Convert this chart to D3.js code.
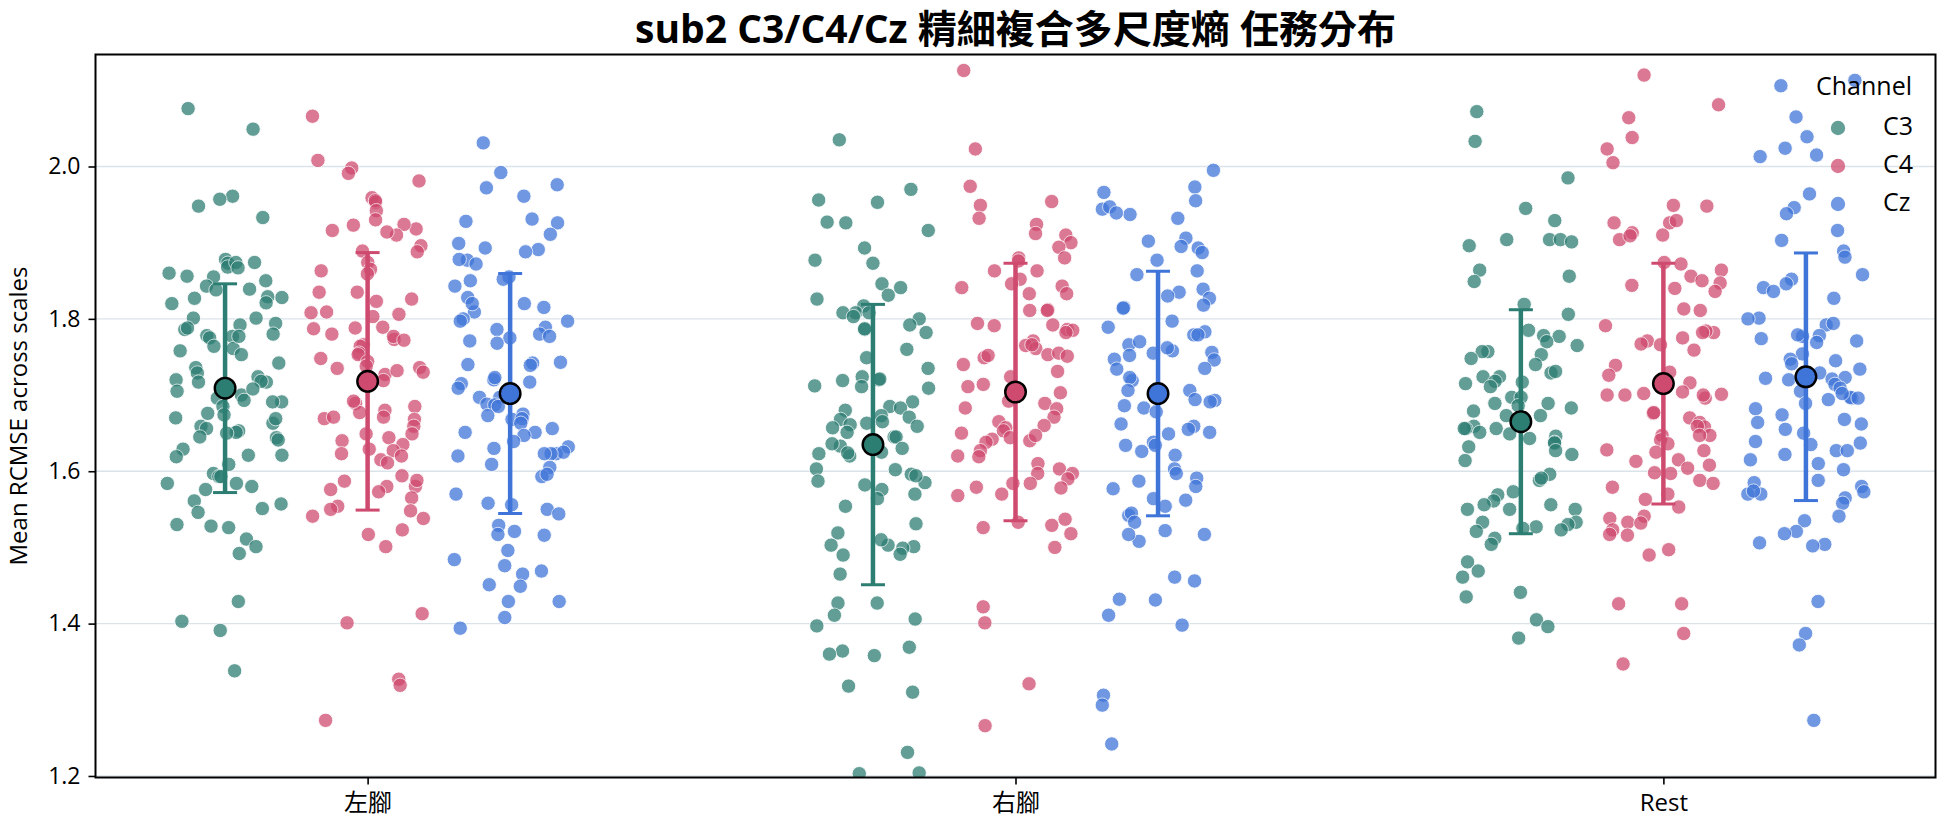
<!DOCTYPE html>
<html><head><meta charset="utf-8">
<script src="https://cdn.jsdelivr.net/npm/d3@7"></script>
<style>
html,body{margin:0;padding:0;background:#fff;}
svg{display:block;}
text{font-family:"Open Sans","Noto Sans CJK TC",sans-serif;fill:#000;}
</style></head>
<body><svg id="chart" width="1944" height="827"></svg>
<script>
const titleText = "sub2 C3/C4/Cz 精細複合多尺度熵 任務分布";
const yLabel = "Mean RCMSE across scales";
const categories = ["左腳", "右腳", "Rest"];
const channels = ["C3", "C4", "Cz"];
const colors = ["#2c7d72", "#cf4a6f", "#3f74d8"];
const yTicks = [1.2, 1.4, 1.6, 1.8, 2.0];

// means and SD (error bars) per channel, per category
const meanC3 = [1.709, 1.635, 1.665];
const meanC4 = [1.718, 1.704, 1.715];
const meanCz = [1.702, 1.702, 1.724];
const sdC3 = [0.137, 0.184, 0.147];
const sdC4 = [0.169, 0.169, 0.158];
const sdCz = [0.1575, 0.1605, 0.1625];

// individual points
const c3Left = [2.076,2.049,1.961,1.957,1.948,1.933,1.874,1.878,1.873,1.868,1.860,1.874,1.867,1.855,1.850,1.843,1.838,1.827,1.828,1.839,1.829,1.821,1.820,1.792,1.794,1.801,1.801,1.786,1.780,1.788,1.778,1.777,1.775,1.764,1.761,1.758,1.753,1.742,1.736,1.729,1.724,1.717,1.700,1.720,1.711,1.718,1.708,1.705,1.696,1.691,1.691,1.685,1.676,1.674,1.670,1.663,1.659,1.656,1.653,1.651,1.650,1.645,1.644,1.641,1.629,1.621,1.619,1.621,1.609,1.597,1.584,1.593,1.593,1.584,1.580,1.576,1.561,1.551,1.557,1.546,1.530,1.526,1.528,1.511,1.501,1.492,1.429,1.403,1.391,1.338,1.856,1.717,1.669,1.777,1.693];
const c4Left = [2.066,2.008,1.998,1.991,1.981,1.959,1.953,1.955,1.942,1.930,1.923,1.918,1.924,1.916,1.910,1.914,1.896,1.889,1.888,1.874,1.865,1.859,1.863,1.835,1.835,1.826,1.823,1.809,1.803,1.806,1.808,1.789,1.787,1.788,1.780,1.773,1.777,1.772,1.766,1.764,1.755,1.753,1.748,1.744,1.738,1.736,1.735,1.730,1.727,1.732,1.719,1.689,1.677,1.669,1.692,1.680,1.685,1.671,1.671,1.668,1.659,1.649,1.649,1.640,1.635,1.644,1.629,1.623,1.627,1.620,1.615,1.611,1.594,1.580,1.587,1.588,1.580,1.576,1.573,1.565,1.554,1.548,1.550,1.541,1.538,1.523,1.517,1.501,1.413,1.401,1.327,1.319,1.273];
const czLeft = [2.031,1.992,1.972,1.976,1.961,1.926,1.931,1.928,1.911,1.899,1.893,1.891,1.888,1.877,1.878,1.872,1.855,1.852,1.850,1.843,1.828,1.820,1.815,1.809,1.820,1.800,1.797,1.797,1.789,1.786,1.780,1.777,1.775,1.771,1.768,1.742,1.743,1.740,1.739,1.720,1.723,1.717,1.715,1.709,1.697,1.697,1.688,1.687,1.685,1.675,1.673,1.668,1.669,1.663,1.656,1.651,1.651,1.647,1.639,1.632,1.630,1.620,1.623,1.625,1.623,1.623,1.609,1.605,1.593,1.596,1.570,1.558,1.556,1.550,1.544,1.529,1.521,1.516,1.517,1.496,1.484,1.476,1.469,1.465,1.451,1.449,1.429,1.429,1.408,1.394];
const c3Right = [2.035,1.970,1.953,1.956,1.927,1.926,1.916,1.893,1.877,1.873,1.846,1.841,1.831,1.826,1.817,1.808,1.808,1.808,1.803,1.800,1.792,1.786,1.782,1.787,1.760,1.749,1.735,1.724,1.720,1.721,1.719,1.711,1.709,1.712,1.691,1.685,1.683,1.680,1.673,1.668,1.671,1.663,1.665,1.661,1.657,1.659,1.645,1.645,1.651,1.633,1.636,1.630,1.623,1.620,1.624,1.625,1.603,1.602,1.596,1.585,1.582,1.594,1.587,1.576,1.570,1.564,1.554,1.531,1.519,1.501,1.503,1.503,1.510,1.499,1.491,1.490,1.465,1.427,1.427,1.411,1.406,1.397,1.364,1.358,1.360,1.369,1.310,1.318,1.231,1.203,1.204];
const c4Right = [2.126,2.023,1.974,1.954,1.949,1.932,1.924,1.910,1.912,1.900,1.894,1.880,1.880,1.876,1.863,1.863,1.852,1.846,1.841,1.843,1.833,1.833,1.812,1.811,1.811,1.792,1.791,1.794,1.786,1.785,1.771,1.782,1.765,1.761,1.766,1.749,1.753,1.755,1.751,1.752,1.740,1.731,1.724,1.711,1.714,1.703,1.689,1.683,1.692,1.682,1.671,1.665,1.660,1.657,1.653,1.644,1.642,1.640,1.647,1.650,1.638,1.627,1.620,1.619,1.610,1.603,1.597,1.597,1.590,1.584,1.584,1.578,1.568,1.579,1.570,1.533,1.526,1.537,1.529,1.518,1.500,1.422,1.401,1.321,1.266];
const czRight = [1.995,1.973,1.966,1.944,1.955,1.947,1.937,1.939,1.932,1.902,1.906,1.893,1.895,1.887,1.877,1.863,1.858,1.839,1.835,1.827,1.830,1.818,1.815,1.814,1.797,1.789,1.783,1.779,1.779,1.766,1.770,1.758,1.762,1.755,1.747,1.752,1.756,1.746,1.734,1.735,1.719,1.723,1.706,1.706,1.693,1.694,1.686,1.683,1.691,1.678,1.662,1.659,1.655,1.649,1.651,1.638,1.634,1.634,1.626,1.621,1.603,1.597,1.591,1.587,1.577,1.580,1.564,1.562,1.554,1.542,1.545,1.533,1.522,1.517,1.508,1.517,1.461,1.456,1.431,1.432,1.411,1.398,1.306,1.293,1.242];
const c3Rest = [2.072,2.033,1.985,1.945,1.929,1.904,1.904,1.896,1.904,1.901,1.864,1.856,1.849,1.819,1.806,1.785,1.778,1.777,1.770,1.765,1.757,1.753,1.757,1.748,1.740,1.729,1.731,1.724,1.724,1.718,1.715,1.711,1.717,1.697,1.697,1.689,1.689,1.683,1.679,1.686,1.673,1.671,1.673,1.659,1.656,1.651,1.656,1.656,1.643,1.649,1.646,1.638,1.637,1.632,1.627,1.622,1.614,1.596,1.588,1.591,1.573,1.569,1.561,1.556,1.550,1.556,1.550,1.550,1.533,1.533,1.527,1.530,1.525,1.521,1.523,1.512,1.504,1.481,1.469,1.461,1.441,1.435,1.405,1.396,1.381];
const c4Rest = [2.120,2.081,2.064,2.038,2.023,2.005,1.949,1.948,1.926,1.926,1.929,1.913,1.910,1.904,1.909,1.872,1.874,1.864,1.856,1.850,1.847,1.844,1.840,1.836,1.813,1.811,1.791,1.782,1.784,1.782,1.775,1.771,1.766,1.767,1.759,1.739,1.730,1.726,1.716,1.704,1.700,1.701,1.702,1.696,1.700,1.700,1.676,1.670,1.677,1.664,1.658,1.647,1.659,1.647,1.647,1.641,1.636,1.625,1.628,1.627,1.613,1.615,1.608,1.604,1.598,1.597,1.588,1.579,1.584,1.570,1.563,1.553,1.541,1.533,1.538,1.532,1.523,1.516,1.517,1.497,1.490,1.426,1.426,1.387,1.347];
const czRest = [2.113,2.106,2.065,2.039,2.013,2.015,2.024,1.964,1.946,1.938,1.916,1.903,1.889,1.881,1.858,1.852,1.846,1.841,1.836,1.827,1.801,1.800,1.792,1.794,1.777,1.778,1.779,1.769,1.774,1.771,1.754,1.747,1.745,1.741,1.734,1.729,1.721,1.720,1.719,1.723,1.722,1.714,1.709,1.705,1.696,1.697,1.702,1.696,1.689,1.694,1.682,1.674,1.668,1.662,1.664,1.655,1.650,1.637,1.635,1.639,1.627,1.627,1.622,1.615,1.610,1.602,1.588,1.585,1.580,1.573,1.570,1.570,1.574,1.565,1.558,1.541,1.535,1.521,1.518,1.506,1.504,1.502,1.429,1.387,1.372,1.273];

const pointsByChannel = [[c3Left, c3Right, c3Rest],[c4Left, c4Right, c4Rest],[czLeft, czRight, czRest]];
const meansByChannel = [meanC3, meanC4, meanCz];
const sdsByChannel = [sdC3, sdC4, sdCz];

const FONT = "\"Open Sans\",\"Noto Sans CJK TC\",sans-serif";
const svg = d3.select("#chart");
const W = 1944, H = 827;
const plot = {left: 95.5, right: 1935.5, top: 54.5, bottom: 777.5};

svg.append("rect").attr("width", W).attr("height", H).attr("fill", "#fff");

const x = d3.scalePoint().domain(categories).range([plot.left, plot.right]).padding(0.42);
const step = x.step();
const xh = d3.scalePoint().domain(channels).range([-0.22 * step, 0.22 * step]);
const y = d3.scaleLinear().domain([1.198, 2.147]).range([plot.bottom, plot.top]);

svg.append("defs").append("clipPath").attr("id", "clip")
  .append("rect").attr("x", plot.left).attr("y", plot.top)
  .attr("width", plot.right - plot.left).attr("height", plot.bottom - plot.top);

// grid
svg.append("g").selectAll("line").data(yTicks).join("line")
  .attr("x1", plot.left).attr("x2", plot.right)
  .attr("y1", d => y(d)).attr("y2", d => y(d))
  .attr("stroke", "#dbe3ea").attr("stroke-width", 1.3);

// deterministic strip jitter (layout only)
function jit(k, seed) {
  const s = Math.sin(k * 12.9898 + seed * 78.233) * 43758.5453;
  return s - Math.floor(s);
}

// points
const gPts = svg.append("g").attr("clip-path", "url(#clip)");
const jitterW = 0.09 * step;
channels.forEach((ch, j) => {
  categories.forEach((cat, i) => {
    const arr = pointsByChannel[j][i];
    const seed = 1 + i * 3 + j;
    gPts.append("g").selectAll("circle").data(arr).join("circle")
      .attr("cx", (d, k) => x(cat) + xh(ch) + (jit(k, seed) - 0.5) * 2 * jitterW)
      .attr("cy", d => y(d))
      .attr("r", 7.2)
      .attr("fill", colors[j])
      .attr("stroke", "#fff").attr("stroke-width", 0.9)
      .attr("opacity", 0.74);
  });
});

// error bars and means
const gErr = svg.append("g");
channels.forEach((ch, j) => {
  categories.forEach((cat, i) => {
    const cx = x(cat) + xh(ch);
    const m = meansByChannel[j][i], s = sdsByChannel[j][i];
    gErr.append("line").attr("x1", cx).attr("x2", cx)
      .attr("y1", y(m - s)).attr("y2", y(m + s))
      .attr("stroke", colors[j]).attr("stroke-width", 4.5);
    [m - s, m + s].forEach(v => {
      gErr.append("line").attr("x1", cx - 12).attr("x2", cx + 12)
        .attr("y1", y(v)).attr("y2", y(v))
        .attr("stroke", colors[j]).attr("stroke-width", 3);
    });
    gErr.append("circle").attr("cx", cx).attr("cy", y(m)).attr("r", 10.3)
      .attr("fill", colors[j]).attr("stroke", "#000").attr("stroke-width", 2.4);
  });
});

// frame
svg.append("rect").attr("x", plot.left).attr("y", plot.top)
  .attr("width", plot.right - plot.left).attr("height", plot.bottom - plot.top)
  .attr("fill", "none").attr("stroke", "#000").attr("stroke-width", 2);

// axes
const yAxis = svg.append("g").attr("transform", `translate(${plot.left},0)`)
  .call(d3.axisLeft(y).tickValues(yTicks).tickFormat(d3.format(".1f")).tickSize(7).tickPadding(8));
yAxis.select(".domain").remove();
yAxis.selectAll(".tick line").attr("stroke", "#000").attr("stroke-width", 1.6);
yAxis.selectAll(".tick text").attr("font-size", 23).attr("font-family", FONT);

const xAxis = svg.append("g").attr("transform", `translate(0,${plot.bottom})`)
  .call(d3.axisBottom(x).tickSize(7).tickPadding(9));
xAxis.select(".domain").remove();
xAxis.selectAll(".tick line").attr("stroke", "#000").attr("stroke-width", 1.6);
xAxis.selectAll(".tick text").attr("font-size", 24).attr("font-family", FONT);

// y label
svg.append("text").attr("transform", `translate(21,${(plot.top + plot.bottom) / 2}) rotate(-90)`)
  .attr("text-anchor", "middle").attr("dominant-baseline", "middle")
  .attr("font-size", 24).text(yLabel);

// title (explicit baseline so the glyph box stays inside the page)
svg.append("text").attr("x", (plot.left + plot.right) / 2).attr("y", 43)
  .attr("text-anchor", "middle")
  .attr("font-size", 39).attr("font-weight", "bold").text(titleText);

// legend
const lg = svg.append("g");
lg.append("text").attr("x", 1864).attr("y", 88).attr("text-anchor", "middle")
  .attr("dominant-baseline", "middle").attr("font-size", 25).text("Channel");
channels.forEach((ch, j) => {
  const ly = 128 + j * 38;
  lg.append("circle").attr("cx", 1838).attr("cy", ly).attr("r", 7.2)
    .attr("fill", colors[j]).attr("opacity", 0.74);
  lg.append("text").attr("x", 1883).attr("y", ly).attr("dominant-baseline", "middle")
    .attr("font-size", 25).text(ch);
});
</script></body></html>
